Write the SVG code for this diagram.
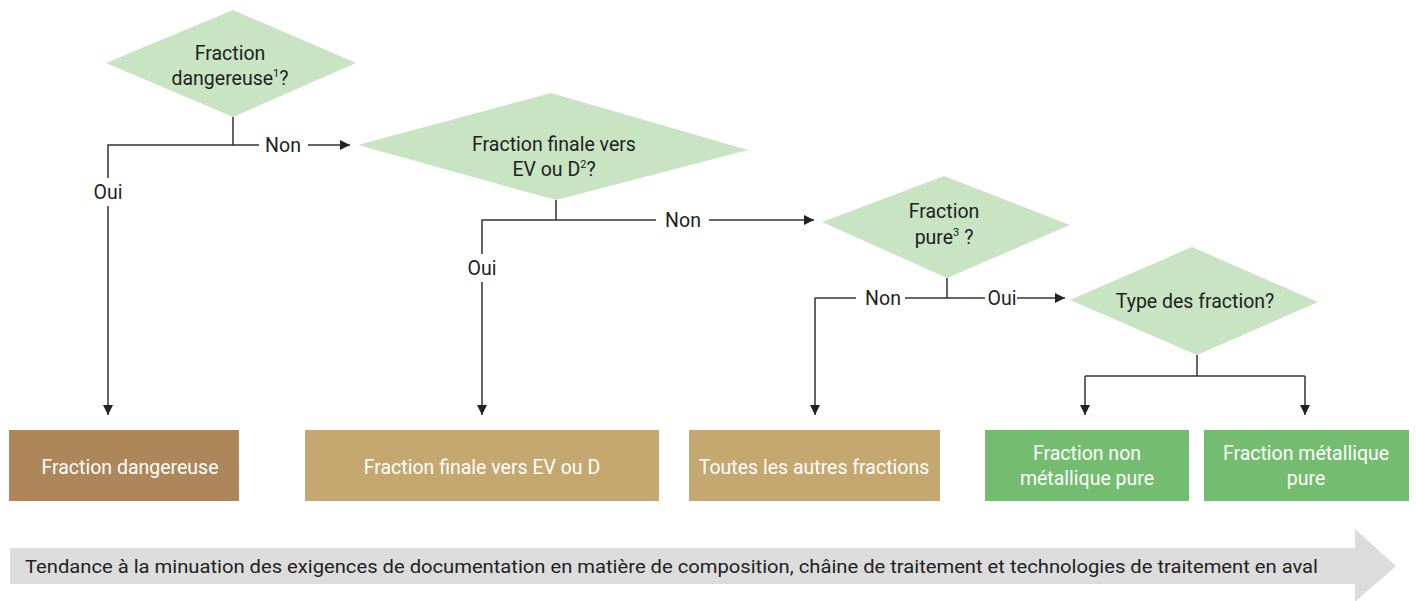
<svg xmlns="http://www.w3.org/2000/svg" width="1416" height="601" viewBox="0 0 1416 601">
<defs>
<marker id="ah" viewBox="0 0 10 10" refX="10" refY="5" markerWidth="10" markerHeight="10" markerUnits="userSpaceOnUse" orient="auto">
<path d="M0,0 L10,5 L0,10 z" fill="#222"/>
</marker>
<style>
text{font-family:Roboto,"Liberation Sans",sans-serif;}
.d{fill:#c8e4c3;}
.dt{font-size:19.5px;fill:#222;text-anchor:middle;}
.lb{font-size:19.5px;fill:#222;text-anchor:middle;}
.bt{font-size:19.5px;fill:#fff;text-anchor:middle;}
.c{fill:none;stroke:#333;stroke-width:1.5;}
.ca{fill:none;stroke:#333;stroke-width:1.5;marker-end:url(#ah);}
</style>
</defs>
<rect width="1416" height="601" fill="#fff"/>
<g id="connectors">
<path class="c" d="M233,117 V145 H108 V178"/>
<path class="ca" d="M108,206 V415"/>
<path class="c" d="M233,145 H259"/>
<path class="ca" d="M308,145 H350"/>
<path class="c" d="M556,200 V220 H482 V254"/>
<path class="ca" d="M482,282 V415"/>
<path class="c" d="M556,220 H656"/>
<path class="ca" d="M709,220 H814"/>
<path class="c" d="M947,278 V298 H985"/>
<path class="c" d="M905,298 H947"/>
<path class="c" d="M856,298 H815"/>
<path class="ca" d="M815,298 V415"/>
<path class="ca" d="M1017,298 H1065"/>
<path class="c" d="M1197,355 V376"/>
<path class="c" d="M1085,376 H1305"/>
<path class="ca" d="M1085,376 V415"/>
<path class="ca" d="M1305,376 V415"/>
</g>
<g id="labels">
<text class="lb" x="283" y="152">Non</text>
<text class="lb" x="108" y="199">Oui</text>
<text class="lb" x="482" y="275">Oui</text>
<text class="lb" x="683" y="227">Non</text>
<text class="lb" x="883" y="305">Non</text>
<text class="lb" x="1002" y="305">Oui</text>
</g>
<g id="d1">
<polygon class="d" points="233,10 356,63 233,117 106,63"/>
<text class="dt" x="230" y="60">Fraction</text>
<text class="dt" x="230" y="85">dangereuse<tspan font-size="11" dy="-8">1</tspan><tspan dy="8">?</tspan></text>
</g>
<g id="d2">
<polygon class="d" points="551,93 748,150 556,200 358,145"/>
<text class="dt" x="554" y="151">Fraction finale vers</text>
<text class="dt" x="554" y="176">EV ou D<tspan font-size="11" dy="-8">2</tspan><tspan dy="8">?</tspan></text>
</g>
<g id="d3">
<polygon class="d" points="944,176 1070,225 947,278 822,222"/>
<text class="dt" x="944" y="218">Fraction</text>
<text class="dt" x="944" y="244">pure<tspan font-size="11" dy="-8">3</tspan><tspan dy="8"> ?</tspan></text>
</g>
<g id="d4">
<polygon class="d" points="1192,247 1318,302 1197,355 1070,300"/>
<text class="dt" x="1195" y="308">Type des fraction?</text>
</g>
<g id="b1">
<rect x="9" y="430" width="230" height="71" fill="#ad865a"/>
<text class="bt" x="130" y="474">Fraction dangereuse</text>
</g>
<g id="b2">
<rect x="305" y="430" width="354" height="71" fill="#c5a770"/>
<text class="bt" x="482" y="474">Fraction finale vers EV ou D</text>
</g>
<g id="b3">
<rect x="689" y="430" width="251" height="71" fill="#c5a770"/>
<text class="bt" x="814" y="474">Toutes les autres fractions</text>
</g>
<g id="b4">
<rect x="985" y="430" width="204" height="71" fill="#74bc6f"/>
<text class="bt" x="1087" y="460">Fraction non</text>
<text class="bt" x="1087" y="485">métallique pure</text>
</g>
<g id="b5">
<rect x="1204" y="430" width="205" height="71" fill="#74bc6f"/>
<text class="bt" x="1306" y="460">Fraction métallique</text>
<text class="bt" x="1306" y="485">pure</text>
</g>
<g id="trend">
<polygon points="10,548 1355,548 1355,529 1396,566 1355,602 1355,584 10,584" fill="#dcdcdd"/>
<text x="25" y="573" font-size="19" fill="#222" textLength="1293" lengthAdjust="spacingAndGlyphs">Tendance à la minuation des exigences de documentation en matière de composition, châine de traitement et technologies de traitement en aval</text>
</g>
</svg>
